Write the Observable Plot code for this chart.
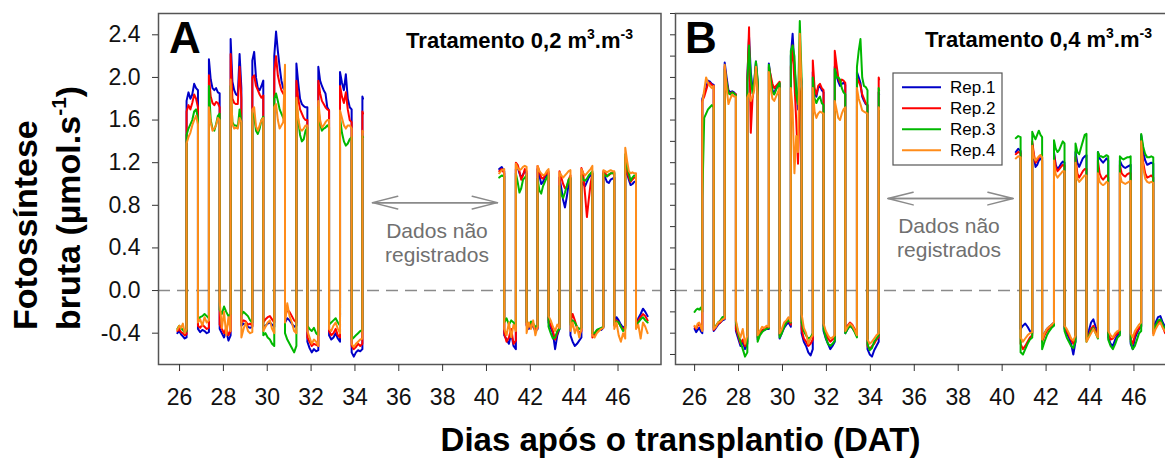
<!DOCTYPE html>
<html><head><meta charset="utf-8">
<script src="https://cdn.jsdelivr.net/npm/d3@7"></script>
<script src="https://cdn.jsdelivr.net/npm/@observablehq/plot@0.6"></script>
<style>
body{margin:0;background:#fff;}
#wrap{position:relative;width:1165px;height:459px;overflow:hidden;background:#fff;}
#wrap > svg{position:absolute;top:0;}
</style></head><body><div id="wrap"></div>
<script>
const reps = ["Rep.1","Rep.2","Rep.3","Rep.4"];
const repColors = ["#0000c8","#ff0000","#00b800","#ff8c1a"];
const panelTitles = ["Tratamento 0,2 m", "Tratamento 0,4 m"];
const panelLetters = ["A","B"];
const xTicks = [26,28,30,32,34,36,38,40,42,44,46];
const yTicksA = [-0.4,0,0.4,0.8,1.2,1.6,2.0,2.4];
const yTicksB = [-0.6,-0.4,-0.2,0,0.2,0.4,0.6,0.8,1.0,1.2,1.4,1.6,1.8,2.0,2.2,2.4,2.6];
const noDataX = [34.8, 40.5];
const noDataY = [0.825, 0.863];

// segment boundaries (days after transplanting): alternating night / day periods
const boundsA1 = [25.90,26.32,26.84,27.34,27.83,28.33,28.82,29.32,29.82,30.32,30.81,31.33,31.83,32.33,32.82,33.32,33.85,34.34,34.37];
const boundsA2 = [40.58,40.81,41.34,41.83,42.33,42.83,43.33,43.83,44.33,44.83,45.33,45.83,46.33,46.82,47.35];
const boundsB1 = [26.00,26.35,26.87,27.37,27.88,28.40,28.87,29.38,29.87,30.38,30.87,31.38,31.87,32.38,32.86,33.39,33.87,34.38,34.40];
const boundsB2 = [40.62,40.84,41.37,41.82,42.36,42.84,43.34,43.84,44.36,44.83,45.36,45.85,46.33,46.88,47.42];

// Panel A, first period
const A1_r1 = [[-0.40,-0.38,-0.41,-0.43,-0.45,-0.44],[1.78,1.86,1.80,1.84,1.94,1.90,1.88],[-0.36,-0.39,-0.37,-0.38,-0.40,-0.39],[2.17,1.98,1.90,1.88,1.90,1.86,1.85],[-0.36,-0.40,-0.44,-0.38,-0.47,-0.42],[2.36,1.96,1.88,1.84,1.83,2.22,1.90],[-0.33,-0.31,-0.32,-0.34,-0.35,-0.34],[2.16,2.24,2.00,1.90,1.88,1.92,1.97],[-0.35,-0.33,-0.31,-0.30,-0.32,-0.34],[2.20,2.43,2.25,2.10,1.97,1.90,1.88],[-0.30,-0.26,-0.28,-0.31,-0.34,-0.33],[2.13,1.95,1.80,1.75,1.73,1.72,1.72],[-0.48,-0.54,-0.58,-0.55,-0.57,-0.56],[2.10,1.97,1.92,1.88,1.85,1.72,1.69],[-0.42,-0.46,-0.44,-0.40,-0.45,-0.48],[2.05,1.95,1.88,2.03,1.80,1.72,1.70],[-0.58,-0.62,-0.58,-0.56,-0.57,-0.55],[1.82,1.80]];
const A1_r2 = [[-0.38,-0.36,-0.39,-0.40,-0.42,-0.41],[1.68,1.74,1.70,1.76,1.84,1.80,1.72],[-0.33,-0.35,-0.32,-0.34,-0.36,-0.35],[2.02,1.82,1.76,1.74,1.77,1.76,1.72],[-0.32,-0.36,-0.40,-0.35,-0.42,-0.38],[2.22,1.80,1.76,1.75,1.75,2.10,1.80],[-0.30,-0.28,-0.29,-0.32,-0.31,-0.33],[2.00,2.02,1.92,1.88,1.84,1.81,1.83],[-0.30,-0.27,-0.25,-0.24,-0.27,-0.30],[2.05,2.20,2.02,1.94,1.88,1.85,1.82],[-0.25,-0.18,-0.20,-0.24,-0.28,-0.30],[1.97,1.80,1.70,1.66,1.62,1.60,1.60],[-0.44,-0.48,-0.52,-0.50,-0.51,-0.52],[1.97,1.85,1.78,1.75,1.72,1.70,1.69],[-0.38,-0.42,-0.40,-0.36,-0.42,-0.44],[1.92,1.82,1.76,1.86,1.70,1.60,1.58],[-0.52,-0.55,-0.53,-0.50,-0.52,-0.50],[1.68,1.66]];
const A1_r3 = [[-0.36,-0.33,-0.35,-0.37,-0.39,-0.38],[1.46,1.52,1.56,1.60,1.68,1.70,1.62],[-0.28,-0.25,-0.24,-0.22,-0.24,-0.26],[1.92,1.60,1.52,1.50,1.56,1.64,1.66],[-0.18,-0.22,-0.15,-0.20,-0.24,-0.22],[1.92,1.58,1.55,1.55,1.53,1.70,1.58],[-0.23,-0.20,-0.22,-0.24,-0.28,-0.30],[1.67,1.64,1.50,1.47,1.52,1.60,1.63],[-0.42,-0.40,-0.44,-0.46,-0.50,-0.52],[1.80,1.85,1.78,1.70,1.66,1.62,1.60],[-0.40,-0.46,-0.50,-0.54,-0.58,-0.52],[1.78,1.60,1.46,1.40,1.42,1.50,1.53],[-0.33,-0.36,-0.38,-0.35,-0.40,-0.42],[1.72,1.56,1.50,1.52,1.53,1.55,1.53],[-0.32,-0.30,-0.28,-0.26,-0.30,-0.33],[1.62,1.48,1.40,1.36,1.38,1.42,1.44],[-0.46,-0.44,-0.42,-0.40,-0.38,-0.37],[1.45,1.44]];
const A1_r4 = [[-0.37,-0.33,-0.35,-0.31,-0.40,-0.36],[1.38,1.44,1.48,1.55,1.60,1.64,1.56],[-0.30,-0.27,-0.33,-0.25,-0.30,-0.28],[1.72,1.58,1.50,1.52,1.55,1.62,1.60],[-0.10,-0.35,-0.20,-0.42,-0.25,-0.38],[1.98,1.56,1.52,1.53,1.52,1.62,1.58],[-0.44,-0.36,-0.30,-0.38,-0.40,-0.39],[1.70,1.72,1.54,1.50,1.55,1.60,1.62],[-0.38,-0.34,-0.30,-0.28,-0.36,-0.40],[1.72,1.75,1.60,1.52,1.55,1.58,2.12],[-0.30,-0.12,-0.24,-0.30,-0.38,-0.40],[1.81,1.62,1.52,1.50,1.52,1.55,1.55],[-0.38,-0.44,-0.50,-0.46,-0.48,-0.52],[1.78,1.60,1.53,1.55,1.58,1.60,1.60],[-0.36,-0.38,-0.33,-0.30,-0.36,-0.40],[1.69,1.62,1.55,1.52,1.55,1.55,1.52],[-0.50,-0.53,-0.50,-0.48,-0.46,-0.45],[1.50,1.49]];

// Panel A, second period
const A2_r1 = [[1.14,1.16,1.12],[-0.42,-0.46,-0.50,-0.40,-0.52,-0.55],[1.14,1.16,1.10,1.06,1.09,1.12,1.10],[-0.33,-0.36,-0.32,-0.34,-0.38,-0.36],[1.14,1.08,1.00,1.02,1.06,1.08,1.10],[-0.30,-0.35,-0.40,-0.55,-0.42,-0.36],[1.06,0.96,0.85,0.78,0.88,1.00,1.05],[-0.42,-0.48,-0.52,-0.50,-0.47,-0.44],[1.02,1.00,0.98,1.02,1.06,1.08,1.10],[-0.40,-0.42,-0.38,-0.36,-0.37,-0.35],[1.10,1.06,1.02,1.01,1.04,1.05,1.06],[-0.30,-0.25,-0.28,-0.32,-0.35,-0.33],[1.20,1.10,1.04,0.99,1.00,1.02,1.02],[-0.32,-0.26,-0.22,-0.17,-0.20,-0.24]];
const A2_r2 = [[1.12,1.14,1.10],[-0.40,-0.48,-0.44,-0.36,-0.50,-0.47],[1.20,1.18,1.12,1.04,1.08,1.14,1.12],[-0.32,-0.34,-0.30,-0.33,-0.36,-0.35],[1.17,1.12,1.06,1.05,1.08,1.10,1.12],[-0.28,-0.32,-0.38,-0.46,-0.40,-0.34],[1.12,1.06,1.00,0.96,0.97,1.04,1.08],[-0.30,-0.22,-0.28,-0.35,-0.40,-0.38],[1.15,1.10,0.90,0.69,0.85,1.00,1.10],[-0.44,-0.42,-0.38,-0.37,-0.36,-0.34],[1.12,1.10,1.08,1.08,1.10,1.10,1.10],[-0.33,-0.28,-0.30,-0.34,-0.36,-0.35],[1.25,1.12,1.06,1.02,1.04,1.06,1.06],[-0.34,-0.28,-0.25,-0.22,-0.24,-0.28]];
const A2_r3 = [[1.06,1.08,1.07],[-0.30,-0.26,-0.32,-0.28,-0.30,-0.33],[1.10,1.02,0.92,0.96,1.04,1.06,1.08],[-0.30,-0.33,-0.29,-0.31,-0.34,-0.33],[1.05,0.94,0.91,0.98,1.02,1.06,1.08],[-0.34,-0.40,-0.45,-0.44,-0.38,-0.36],[0.98,0.90,0.87,0.92,0.98,1.04,1.06],[-0.32,-0.28,-0.30,-0.34,-0.36,-0.35],[1.08,1.04,1.03,1.05,1.08,1.10,1.12],[-0.40,-0.40,-0.37,-0.36,-0.35,-0.34],[1.10,1.08,1.07,1.09,1.10,1.10,1.11],[-0.32,-0.29,-0.30,-0.34,-0.38,-0.36],[1.28,1.16,1.10,1.03,1.06,1.08,1.08],[-0.33,-0.30,-0.27,-0.25,-0.28,-0.30]];
const A2_r4 = [[1.10,1.13,1.14],[-0.36,-0.42,-0.30,-0.44,-0.32,-0.38],[1.19,1.15,1.13,1.14,1.16,1.17,1.16],[-0.40,-0.30,-0.36,-0.28,-0.42,-0.34],[1.17,1.12,1.10,1.08,1.09,1.12,1.14],[-0.24,-0.28,-0.34,-0.38,-0.32,-0.35],[1.11,1.08,1.06,1.08,1.10,1.12,1.13],[-0.38,-0.30,-0.40,-0.34,-0.44,-0.36],[1.14,1.10,1.08,1.10,1.12,1.14,1.17],[-0.42,-0.44,-0.40,-0.38,-0.36,-0.35],[1.13,1.12,1.11,1.12,1.13,1.12,1.12],[-0.36,-0.30,-0.42,-0.48,-0.40,-0.45],[1.34,1.22,1.12,1.10,1.11,1.10,1.10],[-0.36,-0.32,-0.45,-0.30,-0.34,-0.40]];

// Panel B, first period
const B1_r1 = [[-0.36,-0.39,-0.37,-0.35,-0.38,-0.40],[1.80,1.85,1.90,1.97,1.96,1.94,1.93],[-0.38,-0.35,-0.32,-0.30,-0.28,-0.27],[2.14,2.00,1.88,1.86,1.87,1.86,1.84],[-0.38,-0.45,-0.52,-0.48,-0.55,-0.50],[2.00,2.38,2.05,1.90,1.95,2.15,1.95],[-0.46,-0.40,-0.38,-0.37,-0.36,-0.36],[2.13,2.00,1.88,1.85,1.90,1.92,1.94],[-0.45,-0.40,-0.35,-0.32,-0.30,-0.34],[2.20,2.41,2.10,1.90,1.70,2.10,1.96],[-0.40,-0.48,-0.52,-0.58,-0.61,-0.55],[2.05,1.85,1.82,1.90,1.92,1.88,1.86],[-0.38,-0.45,-0.50,-0.55,-0.52,-0.48],[2.10,2.02,1.96,1.92,1.94,1.95,1.93],[-0.40,-0.36,-0.33,-0.35,-0.38,-0.42],[2.05,2.00,1.95,1.82,1.78,1.75,1.74],[-0.55,-0.60,-0.62,-0.56,-0.52,-0.48],[1.86,1.84]];
const B1_r2 = [[-0.34,-0.36,-0.33,-0.31,-0.34,-0.37],[1.78,1.82,1.88,1.94,1.95,1.93,1.92],[-0.37,-0.34,-0.31,-0.30,-0.27,-0.26],[2.10,1.96,1.86,1.85,1.86,1.85,1.84],[-0.36,-0.42,-0.50,-0.46,-0.52,-0.48],[1.95,2.47,1.48,1.80,1.92,2.10,1.92],[-0.44,-0.39,-0.37,-0.36,-0.35,-0.35],[2.10,2.02,1.94,1.90,1.92,1.94,1.96],[-0.42,-0.38,-0.33,-0.30,-0.28,-0.32],[2.10,2.30,1.95,1.60,1.19,1.80,1.90],[-0.36,-0.45,-0.48,-0.52,-0.50,-0.46],[2.16,1.90,1.84,1.92,1.94,1.90,1.88],[-0.33,-0.40,-0.45,-0.48,-0.46,-0.44],[2.25,2.12,2.00,1.95,1.98,1.97,1.95],[-0.38,-0.33,-0.30,-0.32,-0.36,-0.40],[2.00,1.96,1.92,1.84,1.80,1.76,1.74],[-0.52,-0.55,-0.52,-0.50,-0.46,-0.44],[2.00,1.98]];
const B1_r3 = [[-0.20,-0.18,-0.17,-0.18,-0.16,-0.20],[0.85,1.62,1.66,1.70,1.72,1.74,1.72],[-0.35,-0.33,-0.30,-0.28,-0.25,-0.24],[2.08,1.95,1.85,1.84,1.86,1.85,1.83],[-0.30,-0.40,-0.48,-0.55,-0.62,-0.58],[1.95,2.30,2.00,1.85,1.95,2.15,1.98],[-0.48,-0.42,-0.39,-0.37,-0.36,-0.35],[2.12,1.98,1.86,1.84,1.88,1.92,1.95],[-0.44,-0.40,-0.34,-0.30,-0.27,-0.30],[2.25,2.30,2.20,1.85,1.75,2.53,2.00],[-0.30,-0.38,-0.42,-0.45,-0.44,-0.40],[2.00,1.80,1.76,1.80,1.82,1.76,1.74],[-0.36,-0.44,-0.50,-0.52,-0.50,-0.47],[2.08,2.00,2.00,1.98,1.90,1.86,1.84],[-0.40,-0.36,-0.33,-0.35,-0.39,-0.44],[2.10,2.25,2.36,2.00,1.92,1.91,1.88],[-0.50,-0.56,-0.54,-0.48,-0.45,-0.42],[1.90,1.88]];
const B1_r4 = [[-0.33,-0.35,-0.31,-0.30,-0.34,-0.38],[1.76,1.88,2.00,1.95,1.92,1.90,1.92],[-0.36,-0.34,-0.30,-0.29,-0.27,-0.26],[2.12,1.90,1.75,1.80,1.84,1.82,1.82],[-0.28,-0.38,-0.44,-0.36,-0.50,-0.42],[1.81,1.85,1.78,1.82,1.88,2.10,1.82],[-0.42,-0.38,-0.34,-0.35,-0.33,-0.34],[2.05,1.90,1.80,1.78,1.82,1.86,1.90],[-0.40,-0.36,-0.30,-0.28,-0.25,-0.29],[1.90,1.70,1.10,1.45,1.30,2.41,1.88],[-0.22,-0.35,-0.40,-0.50,-0.45,-0.42],[1.90,1.68,1.62,1.66,1.68,1.67,1.66],[-0.31,-0.38,-0.42,-0.45,-0.44,-0.42],[1.78,1.70,1.62,1.60,1.66,1.70,1.72],[-0.38,-0.34,-0.31,-0.33,-0.37,-0.42],[1.90,1.80,1.75,1.69,1.68,1.67,1.66],[-0.46,-0.50,-0.48,-0.45,-0.42,-0.40],[1.72,1.70]];

// Panel B, second period
const B2_r1 = [[1.30,1.33,1.31],[-0.36,-0.33,-0.31,-0.34,-0.38,-0.40],[1.38,1.25,1.16,1.18,1.22,1.24,1.22],[-0.45,-0.40,-0.36,-0.34,-0.32,-0.30],[1.30,1.18,1.14,1.16,1.19,1.21,1.20],[-0.36,-0.40,-0.44,-0.50,-0.60,-0.48],[1.30,1.20,1.16,1.20,1.24,1.26,1.27],[-0.45,-0.38,-0.30,-0.27,-0.34,-0.40],[1.30,1.24,1.22,1.20,1.22,1.24,1.22],[-0.44,-0.50,-0.52,-0.46,-0.42,-0.40],[1.22,1.18,1.16,1.15,1.16,1.17,1.18],[-0.50,-0.55,-0.45,-0.40,-0.36,-0.34],[1.46,1.30,1.22,1.18,1.19,1.20,1.19],[-0.36,-0.30,-0.25,-0.24,-0.30,-0.34]];
const B2_r2 = [[1.28,1.30,1.29],[-0.50,-0.55,-0.52,-0.48,-0.44,-0.42],[1.40,1.28,1.20,1.22,1.25,1.27,1.25],[-0.48,-0.42,-0.38,-0.35,-0.33,-0.31],[1.28,1.16,1.12,1.14,1.16,1.18,1.17],[-0.34,-0.38,-0.42,-0.46,-0.50,-0.45],[1.25,1.10,1.06,1.09,1.12,1.14,1.14],[-0.46,-0.42,-0.36,-0.33,-0.38,-0.42],[1.22,1.10,1.06,1.04,1.06,1.08,1.06],[-0.40,-0.46,-0.45,-0.42,-0.40,-0.38],[1.18,1.10,1.08,1.07,1.09,1.10,1.10],[-0.46,-0.50,-0.42,-0.38,-0.35,-0.33],[1.38,1.20,1.10,1.06,1.07,1.08,1.06],[-0.40,-0.34,-0.30,-0.28,-0.34,-0.40]];
const B2_r3 = [[1.43,1.45,1.44],[-0.58,-0.60,-0.55,-0.50,-0.46,-0.44],[1.49,1.45,1.42,1.46,1.50,1.46,1.44],[-0.55,-0.48,-0.42,-0.38,-0.35,-0.33],[1.41,1.33,1.30,1.32,1.36,1.40,1.38],[-0.38,-0.44,-0.48,-0.52,-0.54,-0.48],[1.38,1.30,1.28,1.34,1.40,1.46,1.47],[-0.48,-0.43,-0.38,-0.35,-0.40,-0.45],[1.30,1.26,1.26,1.25,1.26,1.27,1.26],[-0.46,-0.52,-0.55,-0.50,-0.44,-0.42],[1.26,1.24,1.23,1.24,1.25,1.25,1.26],[-0.48,-0.55,-0.52,-0.46,-0.40,-0.38],[1.47,1.35,1.28,1.25,1.25,1.26,1.25],[-0.38,-0.33,-0.28,-0.27,-0.32,-0.36]];
const B2_r4 = [[1.24,1.26,1.25],[-0.44,-0.48,-0.45,-0.42,-0.40,-0.39],[1.36,1.25,1.22,1.24,1.26,1.27,1.25],[-0.46,-0.40,-0.36,-0.34,-0.32,-0.30],[1.22,1.09,1.06,1.08,1.10,1.12,1.12],[-0.33,-0.36,-0.40,-0.45,-0.47,-0.42],[1.20,1.05,1.02,1.04,1.06,1.08,1.08],[-0.48,-0.44,-0.40,-0.36,-0.40,-0.44],[1.10,1.02,1.00,0.99,1.00,1.02,1.01],[-0.38,-0.42,-0.44,-0.40,-0.38,-0.37],[1.10,1.02,1.01,1.00,1.01,1.02,1.03],[-0.40,-0.44,-0.38,-0.35,-0.32,-0.30],[1.40,1.15,1.05,1.02,1.01,1.02,1.01],[-0.42,-0.36,-0.32,-0.30,-0.35,-0.38]];

// ---- build long tables ----
function series(bounds, segs, rep, block) {
  const pts = [];
  segs.forEach((vals, i) => {
    const t0 = bounds[i], t1 = bounds[i + 1];
    vals.forEach((v, j) => pts.push({t: t0 + (t1 - t0) * j / (vals.length - 1), v, rep, key: rep + block}));
  });
  return pts;
}
const panelA = [[A1_r1,A2_r1],[A1_r2,A2_r2],[A1_r3,A2_r3],[A1_r4,A2_r4]]
  .map(([s1, s2], i) => series(boundsA1, s1, reps[i], "a").concat(series(boundsA2, s2, reps[i], "b")));
const panelB = [[B1_r1,B2_r1],[B1_r2,B2_r2],[B1_r3,B2_r3],[B1_r4,B2_r4]]
  .map(([s1, s2], i) => series(boundsB1, s1, reps[i], "a").concat(series(boundsB2, s2, reps[i], "b")));

const FONT = "'Liberation Sans', Arial, Helvetica, sans-serif";
const wrap = document.getElementById("wrap");

function panel(data, opts) {
  const lines = data.map((d, i) => Plot.line(d, {x: "t", y: "v", z: "key", stroke: repColors[i], strokeWidth: 2, strokeLinejoin: "round"}));
  const ay = opts.yLabels
    ? Plot.axisY({ticks: opts.yTicks, tickSize: 6, tickPadding: 12, tickFormat: d => d.toFixed(1), stroke: "#333", label: null})
    : Plot.axisY({ticks: opts.yTicks, tickSize: 5, tickFormat: () => "", stroke: "#333", label: null});
  const svg = Plot.plot({
    width: opts.width, height: 459,
    marginLeft: opts.ml, marginRight: opts.mr, marginTop: 13, marginBottom: 95,
    x: {domain: opts.xdom, label: null},
    y: {domain: [-0.694, 2.6], label: null},
    style: {fontFamily: FONT, fontSize: "23px", color: "#111", background: "transparent", overflow: "visible"},
    marks: [
      Plot.ruleY([0], {stroke: "#8a8a8a", strokeWidth: 1.5, strokeDasharray: "12,7"}),
      ...lines,
      Plot.arrow([{a: noDataX[0], b: noDataX[1]}], {x1: "a", x2: "b", y1: () => opts.ny, y2: () => opts.ny, stroke: "#8a8a8a", strokeWidth: 1.5, headLength: 26, headAngle: 28}),
      Plot.arrow([{a: noDataX[1], b: noDataX[0]}], {x1: "a", x2: "b", y1: () => opts.ny, y2: () => opts.ny, stroke: "#8a8a8a", strokeWidth: 1.5, headLength: 26, headAngle: 28}),
      Plot.frame({stroke: "#555", strokeWidth: 1.5}),
      Plot.axisX({ticks: xTicks, tickSize: 7, tickPadding: 17, tickFormat: d => String(d), stroke: "#333", label: null}),
      ay
    ]
  });
  svg.style.left = opts.left + "px";
  wrap.appendChild(svg);
}

panel(panelA, {width: 665, ml: 158, mr: 4.5, left: 0, xdom: [25.04, 47.96], yTicks: yTicksA, yLabels: true, ny: noDataY[0]});
panel(panelB, {width: 581, ml: 75, mr: 4.5, left: 600, xdom: [25.13, 47.96], yTicks: yTicksB, yLabels: false, ny: noDataY[1]});

// ---- overlay texts ----
const NS = "http://www.w3.org/2000/svg";
const ov = document.createElementNS(NS, "svg");
ov.setAttribute("width", 1165); ov.setAttribute("height", 459);
ov.style.left = "0px"; ov.style.fontFamily = FONT;
wrap.appendChild(ov);
function txt(x, y, parts, attrs) {
  const t = document.createElementNS(NS, "text");
  t.setAttribute("x", x); t.setAttribute("y", y);
  for (const k in attrs) t.setAttribute(k, attrs[k]);
  for (const p of parts) {
    const s = document.createElementNS(NS, "tspan");
    s.textContent = p.t;
    if (p.size) s.setAttribute("font-size", p.size);
    if (p.dy) s.setAttribute("dy", p.dy);
    t.appendChild(s);
  }
  ov.appendChild(t);
  return t;
}
// panel letters
txt(169, 53, [{t: panelLetters[0]}], {"font-size": 44, "font-weight": "bold", fill: "#000"});
txt(685, 53, [{t: panelLetters[1]}], {"font-size": 44, "font-weight": "bold", fill: "#000"});
// treatment titles
[[633, 48, panelTitles[0]], [1152, 47, panelTitles[1]]].forEach(([x, y, s]) => {
  txt(x, y, [{t: s}, {t: "3", size: 14, dy: -9}, {t: ".m", dy: 9}, {t: "-3", size: 14, dy: -9}],
      {"font-size": 22, "font-weight": "bold", fill: "#000", "text-anchor": "end"});
});
// no-data labels
[[437, 238], [949, 233]].forEach(([x, y]) => {
  txt(x, y, [{t: "Dados não"}], {"font-size": 21, fill: "#707070", "text-anchor": "middle"});
  txt(x, y + 24, [{t: "registrados"}], {"font-size": 21, fill: "#707070", "text-anchor": "middle"});
});
// axis titles
txt(680.5, 451, [{t: "Dias após o transplantio (DAT)"}], {"font-size": 33, "font-weight": "bold", fill: "#000", "text-anchor": "middle"});
txt(0, 0, [{t: "Fotossíntese"}], {"font-size": 34, "font-weight": "bold", fill: "#000", transform: "translate(37,330) rotate(-90)"});
txt(0, 0, [{t: "bruta (µmol.s"}, {t: "-1", size: 21, dy: -14}, {t: ")", dy: 14}], {"font-size": 34, "font-weight": "bold", fill: "#000", transform: "translate(80,330) rotate(-90)"});
// legend
const box = document.createElementNS(NS, "rect");
box.setAttribute("x", 893); box.setAttribute("y", 73); box.setAttribute("width", 109); box.setAttribute("height", 92);
box.setAttribute("fill", "#fff"); box.setAttribute("stroke", "#555"); box.setAttribute("stroke-width", 1.2);
ov.appendChild(box);
reps.forEach((r, i) => {
  const y = 87.3 + i * 21;
  const l = document.createElementNS(NS, "line");
  l.setAttribute("x1", 902); l.setAttribute("x2", 941); l.setAttribute("y1", y); l.setAttribute("y2", y);
  l.setAttribute("stroke", repColors[i]); l.setAttribute("stroke-width", 2);
  ov.appendChild(l);
  txt(950, y + 6, [{t: r}], {"font-size": 17, fill: "#000"});
});
</script></body></html>
